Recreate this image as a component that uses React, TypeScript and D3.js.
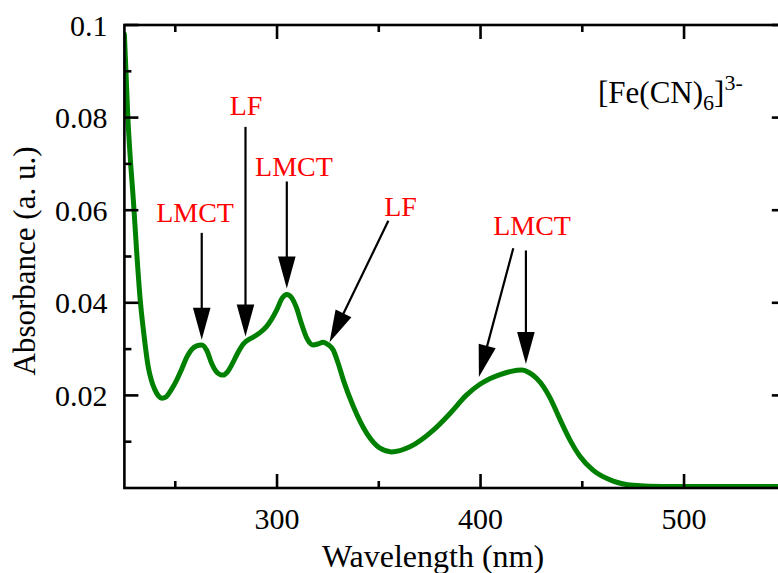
import React from "react";
import * as d3 from "d3";

// Absorption spectrum of [Fe(CN)6]3- : wavelength (nm) and absorbance (a. u.)
const wavelengths = [
  225, 226.7, 228, 229.4, 231, 232.7, 234.5, 236.7, 238.3, 240, 241.7,
  243.4, 245.5, 248, 250.7, 253, 255.6, 258, 260.5, 263, 265.5, 267.9, 270, 272, 273.6,
  275.5, 278, 280.5, 283.4, 288.3, 291.5, 294.9, 299.8, 302.5, 304.8, 307, 309.5, 312,
  314.5, 317.8, 320, 322.7, 325, 327.6, 330, 332.6, 337.5, 344.1, 350.6, 356.3, 365.3,
  376.8, 385, 393.2, 399.7, 404.5, 409.6, 415, 420.2, 424, 427.5, 430.9, 434.1, 437, 440,
  443.9, 448.9, 455.4, 465.2, 475, 490, 510, 530, 550,
];
const absorbance = [
  0.098, 0.08, 0.0705, 0.0622, 0.0512, 0.041, 0.0335, 0.0262, 0.0232, 0.0212, 0.0199,
  0.0194, 0.0197, 0.0212, 0.0233, 0.0255, 0.0282, 0.0299, 0.0307,
  0.0309, 0.0297, 0.0269, 0.0252, 0.0245, 0.0244, 0.025, 0.0268, 0.029, 0.0311, 0.0326,
  0.0335, 0.0349, 0.0384, 0.041, 0.0418, 0.0412, 0.039, 0.0355, 0.0325, 0.0309, 0.0311,
  0.0315, 0.031, 0.0298, 0.027, 0.0233, 0.0176, 0.0118, 0.0086, 0.0078, 0.0089, 0.0125,
  0.0161, 0.0201, 0.0224, 0.0236, 0.0245, 0.0252, 0.0255, 0.0249, 0.0237, 0.0219, 0.0195,
  0.0168, 0.0139, 0.0104, 0.0068, 0.0038, 0.0015, 0.0006, 0.0003, 0.0003, 0.0003, 0.0003,
];

const xMajorTicks = [300, 400, 500];
const xMinorTicks = [250, 350, 450, 550];
const yMajorTicks = [0.02, 0.04, 0.06, 0.08, 0.1];
const yMinorTicks = [0.01, 0.03, 0.05, 0.07, 0.09];
const yTickLabels = ["0.02", "0.04", "0.06", "0.08", "0.1"];

// Band assignments: label text and where it sits (wavelength, absorbance)
const bandLabels = ["LMCT", "LF", "LMCT", "LF", "LMCT"];
const bandLabelAt: [number, number][] = [
  [259.7, 0.0575],
  [284.8, 0.0806],
  [308.3, 0.0674],
  [360.7, 0.0587],
  [425.3, 0.0546],
];
// Arrows pointing at the bands: tail and tip (wavelength, absorbance)
const arrowTails: [number, number][] = [
  [263.0, 0.0551],
  [284.5, 0.078],
  [304.8, 0.0662],
  [354.7, 0.0577],
  [416.1, 0.0518],
  [422.3, 0.0513],
];
const arrowTips: [number, number][] = [
  [263.0, 0.032],
  [284.5, 0.0327],
  [304.8, 0.0431],
  [325.8, 0.0315],
  [399.2, 0.024],
  [422.3, 0.0268],
];

const W = 778;
const H = 573;
const FONT = "'Liberation Serif', 'Times New Roman', serif";

export default function App() {
  const x = d3.scaleLinear().domain([225, 550]).range([124.4, 785.8]);
  const y = d3.scaleLinear().domain([0, 0.1]).range([488, 25]);
  const [x0, x1] = x.range();
  const [yb, yt] = y.range();

  const points = wavelengths.map((w, i) => [w, absorbance[i]] as [number, number]);
  const line = d3
    .line<[number, number]>()
    .x((d) => x(d[0]))
    .y((d) => y(d[1]))
    .curve(d3.curveMonotoneX);

  const axisW = 2.6;
  const major = 14;
  const minor = 7;

  const arrow = (tail: [number, number], tip: [number, number], k: number) => {
    const tx = x(tail[0]);
    const ty = y(tail[1]);
    const px = x(tip[0]);
    const py = y(tip[1]);
    const dx = px - tx;
    const dy = py - ty;
    const len = Math.hypot(dx, dy);
    const ux = dx / len;
    const uy = dy / len;
    const headL = 32;
    const headW = 8.8;
    const bx = px - ux * headL;
    const by = py - uy * headL;
    const head = [
      [px, py],
      [bx - uy * headW, by + ux * headW],
      [bx + uy * headW, by - ux * headW],
    ]
      .map((p) => p.join(","))
      .join(" ");
    return (
      <g key={`arrow-${k}`}>
        <line x1={tx} y1={ty} x2={bx + ux * 2} y2={by + uy * 2} stroke="#000" strokeWidth={2.2} />
        <polygon points={head} fill="#000" />
      </g>
    );
  };

  return (
    <svg
      width={W}
      height={H}
      style={{ position: "absolute", left: 0, top: 0, display: "block", background: "#fff" }}
      fontFamily={FONT}
    >
      <defs>
        <clipPath id="plot-area">
          <rect x={x0} y={yt} width={x1 - x0} height={yb - yt} />
        </clipPath>
      </defs>

      {/* spectrum */}
      <path
        d={line(points) ?? ""}
        fill="none"
        stroke="#008000"
        strokeWidth={5}
        strokeLinejoin="round"
        strokeLinecap="round"
        clipPath="url(#plot-area)"
      />

      {/* frame */}
      <g stroke="#000" strokeWidth={axisW} fill="none">
        <rect x={x0} y={yt} width={x1 - x0} height={yb - yt} />
      </g>

      {/* ticks on all four sides, pointing inward */}
      <g stroke="#000" strokeWidth={axisW}>
        {xMajorTicks.map((t) => (
          <g key={`xM${t}`}>
            <line x1={x(t)} x2={x(t)} y1={yb} y2={yb - major} />
            <line x1={x(t)} x2={x(t)} y1={yt} y2={yt + major} />
          </g>
        ))}
        {xMinorTicks.map((t) => (
          <g key={`xm${t}`}>
            <line x1={x(t)} x2={x(t)} y1={yb} y2={yb - minor} />
            <line x1={x(t)} x2={x(t)} y1={yt} y2={yt + minor} />
          </g>
        ))}
        {yMajorTicks.map((t) => (
          <g key={`yM${t}`}>
            <line x1={x0} x2={x0 + major} y1={y(t)} y2={y(t)} />
            <line x1={x1} x2={x1 - major} y1={y(t)} y2={y(t)} />
          </g>
        ))}
        {yMinorTicks.map((t) => (
          <g key={`ym${t}`}>
            <line x1={x0} x2={x0 + minor} y1={y(t)} y2={y(t)} />
            <line x1={x1} x2={x1 - minor} y1={y(t)} y2={y(t)} />
          </g>
        ))}
      </g>

      {/* tick labels */}
      <g fontSize={30} fill="#000">
        {xMajorTicks.map((t) => (
          <text key={`xl${t}`} x={x(t)} y={yb + 41} textAnchor="middle">
            {t}
          </text>
        ))}
        {yMajorTicks.map((t, i) => (
          <text key={`yl${t}`} x={x0 - 17} y={y(t)} dy="0.35em" textAnchor="end">
            {yTickLabels[i]}
          </text>
        ))}
      </g>

      {/* axis titles */}
      <text x={433} y={567} fontSize={32} textAnchor="middle" fill="#000">
        Wavelength (nm)
      </text>
      <text
        transform="translate(35,261) rotate(-90)"
        fontSize={31}
        textAnchor="middle"
        fill="#000"
      >
        Absorbance (a. u.)
      </text>

      {/* compound label */}
      <text x={598} y={103} fontSize={31} fill="#000">
        [Fe(CN)
        <tspan fontSize={22} dy={7}>
          6
        </tspan>
        <tspan dy={-7}>]</tspan>
        <tspan fontSize={22} dy={-13}>
          3-
        </tspan>
      </text>

      {/* band assignments */}
      {arrowTails.map((t, i) => arrow(t, arrowTips[i], i))}
      <g fontSize={28} fill="#ff0000" textAnchor="middle">
        {bandLabels.map((lab, i) => (
          <text key={`band${i}`} x={x(bandLabelAt[i][0])} y={y(bandLabelAt[i][1])}>
            {lab}
          </text>
        ))}
      </g>
    </svg>
  );
}
